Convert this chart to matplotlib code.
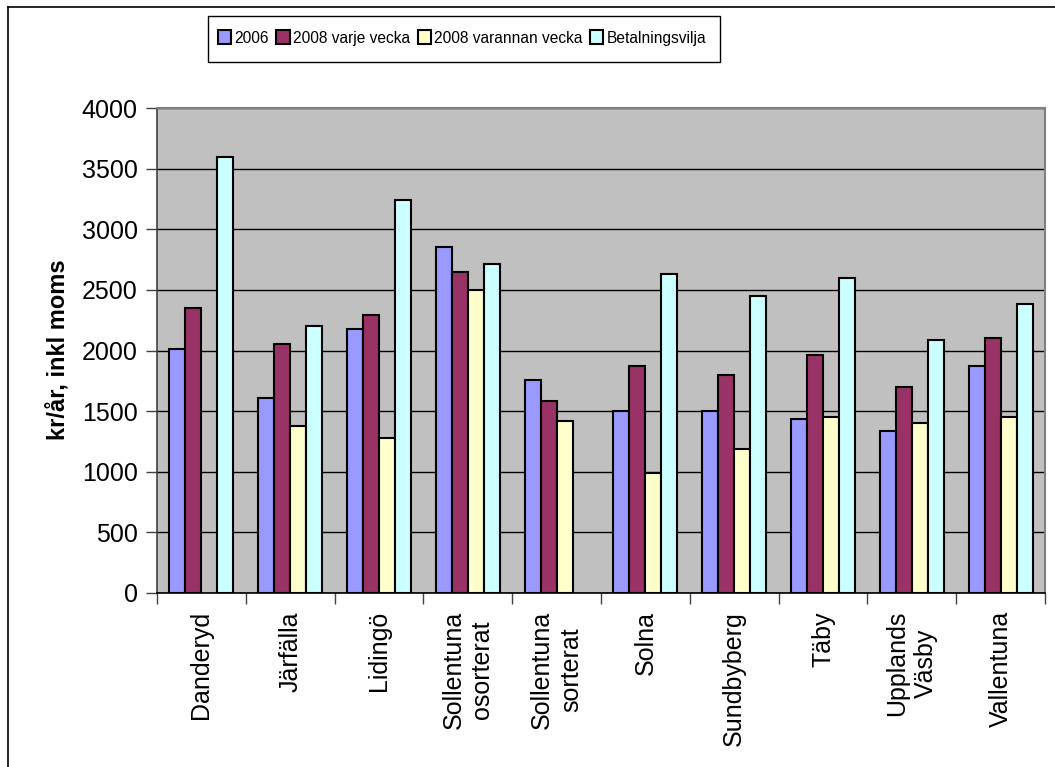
import matplotlib
matplotlib.use("Agg")
import matplotlib.pyplot as plt
from matplotlib.lines import Line2D
from matplotlib.patches import Patch, Rectangle
import numpy as np

plt.rcParams['font.family'] = ['Liberation Sans', 'DejaVu Sans']

categories = ["Danderyd", "Järfälla", "Lidingö", "Sollentuna\nosorterat", "Sollentuna\nsorterat",
              "Solna", "Sundbyberg", "Täby", "Upplands\nVäsby", "Vallentuna"]
series_names = ["2006", "2008 varje vecka", "2008 varannan vecka", "Betalningsvilja"]
v2006 = [2010, 1610, 2180, 2850, 1760, 1500, 1500, 1435, 1335, 1875]
v2008_varje = [2350, 2050, 2290, 2650, 1580, 1875, 1795, 1960, 1695, 2105]
v2008_varannan = [None, 1380, 1280, 2500, 1420, 990, 1185, 1450, 1400, 1450]
betalningsvilja = [3600, 2200, 3240, 2715, None, 2630, 2450, 2600, 2090, 2385]
yticks = [0, 500, 1000, 1500, 2000, 2500, 3000, 3500, 4000]

colors = ["#9999FF", "#993366", "#FFFFCC", "#CCFFFF"]
series = [v2006, v2008_varje, v2008_varannan, betalningsvilja]

W, H = 1055, 767
fig = plt.figure(figsize=(W / 100, H / 100), dpi=100)
ax = fig.add_axes([157 / W, 1 - 593 / H, (1045 - 157) / W, (593 - 108) / H])
ax.set_facecolor("#C0C0C0")

w = 0.18
for k, (vals, col, name) in enumerate(zip(series, colors, series_names)):
    xs = [i + (k - 1.5) * w for i, v in enumerate(vals) if v is not None]
    hs = [v for v in vals if v is not None]
    ax.bar(xs, hs, width=w, color=col, edgecolor="black", linewidth=1.5, zorder=3, label=name)

ax.set_xlim(-0.5, len(categories) - 0.5)
ax.set_ylim(0, 4000)
ax.set_yticks(yticks)
ax.yaxis.grid(True, color="black", linewidth=1, zorder=1)
ax.set_axisbelow(True)

ax.set_xticks(range(len(categories)))
ax.set_xticklabels(categories, rotation=90, fontsize=18, va="top", ha="center", multialignment="center",
                   linespacing=1.25)
ax.tick_params(axis="x", which="major", length=0, pad=13)
ax.set_xticks(np.arange(-0.5, len(categories) + 0.5, 1), minor=True)
ax.tick_params(axis="x", which="minor", length=8, width=1, color="#404040")
ax.tick_params(axis="y", length=8, width=1, color="#404040", labelsize=18, pad=6)

for s in ["top", "right"]:
    ax.spines[s].set_color("#808080")
    ax.spines[s].set_linewidth(1.5)
ax.spines["left"].set_color("#404040")
ax.spines["left"].set_linewidth(1.2)
ax.spines["bottom"].set_color("black")
ax.spines["bottom"].set_linewidth(1.2)

fig.text(58 / W, 1 - 350 / H, "kr/år, inkl moms", rotation=90, fontsize=17, fontweight="bold",
         ha="center", va="center")

# legend box
fig.add_artist(Rectangle((208 / W, 1 - 62 / H), (720 - 208) / W, (62 - 16) / H,
                         facecolor="white", edgecolor="black", linewidth=1.0,
                         transform=fig.transFigure, zorder=5))
handles = [Patch(facecolor=c, edgecolor="black", linewidth=1.5) for c in colors]
leg = fig.legend(handles, series_names, loc="center", bbox_to_anchor=(462 / W, 1 - 38 / H),
                 ncol=4, frameon=False, handlelength=0.85,
                 handleheight=0.95, handletextpad=0.2, columnspacing=0.5, borderpad=0.2,
                 prop={'size': 11.2})
leg.set_zorder(6)

# figure border
fig.add_artist(Line2D([8 / W, 1.0], [1 - 7 / H, 1 - 7 / H], color="black", linewidth=1.2,
                      transform=fig.transFigure))
fig.add_artist(Line2D([8 / W, 8 / W], [0.0, 1 - 7 / H], color="black", linewidth=1.2,
                      transform=fig.transFigure))

fig.savefig("out.png", dpi=100)
